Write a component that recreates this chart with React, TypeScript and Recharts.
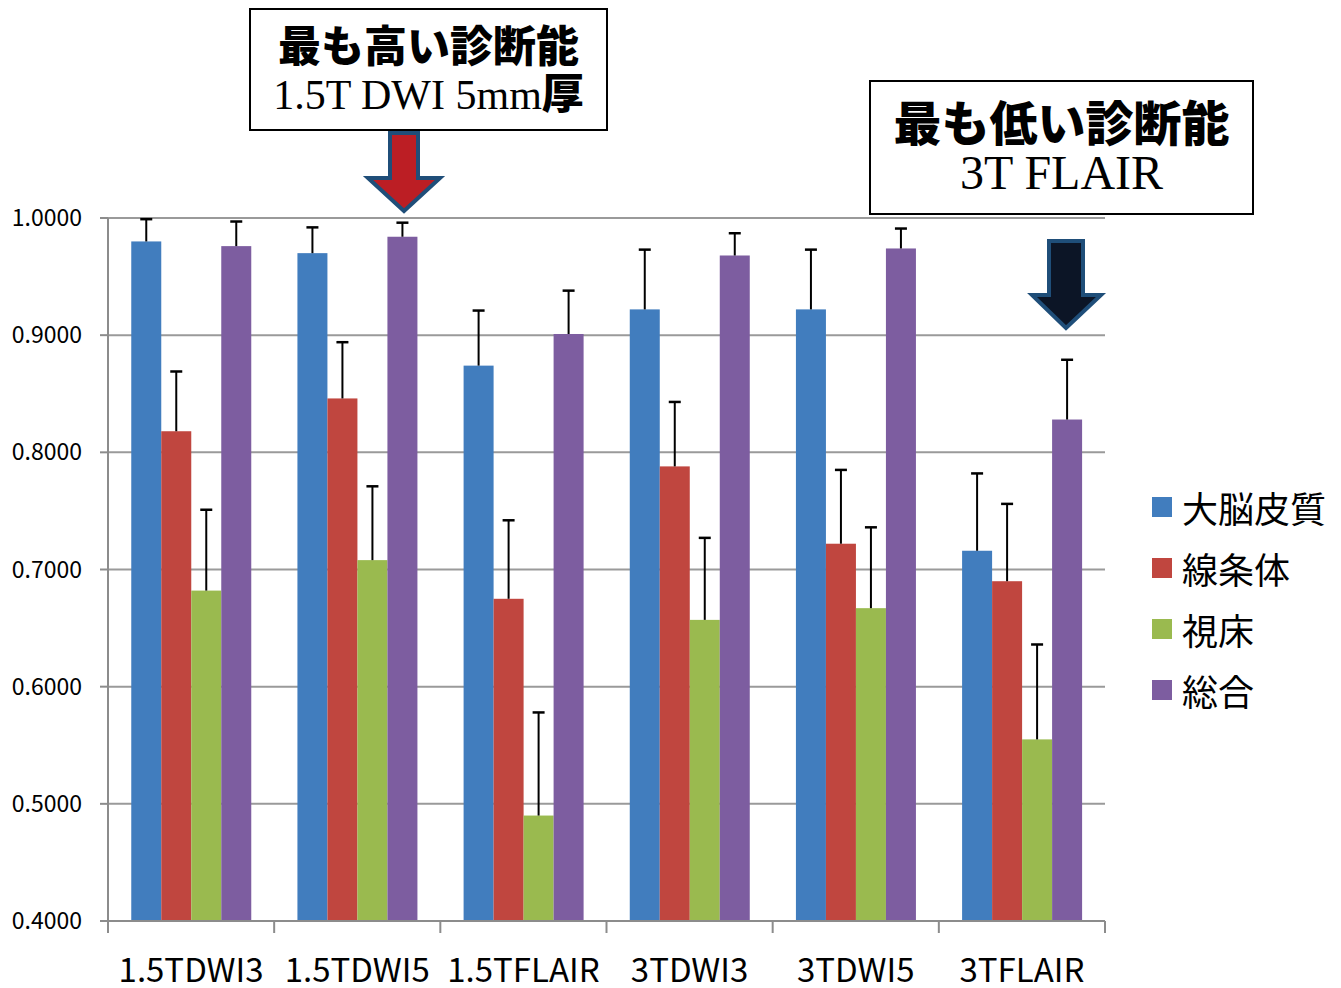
import React from 'react';
import { BarChart, Bar, XAxis, YAxis, CartesianGrid } from 'recharts';

const categories = ['1.5TDWI3', '1.5TDWI5', '1.5TFLAIR', '3TDWI3', '3TDWI5', '3TFLAIR'];
const cortex = [0.980, 0.970, 0.874, 0.922, 0.922, 0.716];
const striatum = [0.818, 0.846, 0.675, 0.788, 0.722, 0.690];
const thalamus = [0.682, 0.708, 0.490, 0.657, 0.667, 0.555];
const overall = [0.976, 0.984, 0.901, 0.968, 0.974, 0.828];
const cortexErr = [0.019, 0.022, 0.047, 0.051, 0.051, 0.066];
const striatumErr = [0.051, 0.048, 0.067, 0.055, 0.063, 0.066];
const thalamusErr = [0.069, 0.063, 0.088, 0.070, 0.069, 0.081];
const overallErr = [0.021, 0.012, 0.037, 0.019, 0.017, 0.051];
const yTicks = [0.4, 0.5, 0.6, 0.7, 0.8, 0.9, 1.0];
const boundaryTicks = [0, 1, 2, 3, 4, 5, 6];

const Y_MIN = 0.4;
const Y_MAX = 1.0;

const series = [
  { key: 'cortex', name: '大脳皮質', color: '#417DBE' },
  { key: 'striatum', name: '線条体', color: '#C0463F' },
  { key: 'thalamus', name: '視床', color: '#9ABA4F' },
  { key: 'overall', name: '総合', color: '#7D5DA0' },
];

const data = categories.map((c, i) => ({
  name: c,
  slot: i + 0.5, // category centre on the 0..6 boundary axis
  cortex: cortex[i],
  striatum: striatum[i],
  thalamus: thalamus[i],
  overall: overall[i],
  cortexErr: cortexErr[i],
  striatumErr: striatumErr[i],
  thalamusErr: thalamusErr[i],
  overallErr: overallErr[i],
}));

const SANS = '"Noto Sans CJK JP", "Noto Sans", sans-serif';
const SERIF = '"Liberation Serif", "DejaVu Serif", serif';

// bar + one-sided (upper) error whisker, scaled from the bar's own geometry
const errShape = (key: string) => (props: any) => {
  const { x, y, width, height, fill, payload } = props;
  const v = payload[key];
  const pxPerUnit = height / (v - Y_MIN);
  const top = y - payload[key + 'Err'] * pxPerUnit;
  const cx = x + width / 2;
  return (
    <g>
      <rect x={x} y={y} width={width} height={height} fill={fill} />
      <line x1={cx} x2={cx} y1={y} y2={top} stroke="#000" strokeWidth={2} />
      <line x1={cx - 6} x2={cx + 6} y1={top} y2={top} stroke="#000" strokeWidth={2.5} />
    </g>
  );
};

function XLabel({ x, y, payload }: any) {
  return (
    <text x={x} y={y + 52} textAnchor="middle" fontSize={33} fontFamily={SANS} fill="#000">
      {payload.value}
    </text>
  );
}

export default function App() {
  return (
    <div style={{ position: 'absolute', left: 0, top: 0, width: 1341, height: 988, background: '#fff' }}>
      <BarChart
        width={1341}
        height={988}
        data={data}
        barCategoryGap="14%"
        barGap={0}
        margin={{ top: 218, right: 236, bottom: 0, left: 0 }}
      >
        <CartesianGrid horizontal vertical={false} stroke="#9a9a9a" strokeWidth={2} />
        {/* boundary ticks between categories, sits right on the plot bottom */}
        <XAxis
          xAxisId={0}
          dataKey="slot"
          type="number"
          scale="linear"
          domain={[0, 6]}
          allowDataOverflow
          ticks={boundaryTicks}
          height={1}
          interval={0}
          tickSize={12}
          tickLine={{ stroke: '#8c8c8c', strokeWidth: 2 }}
          tickFormatter={() => ''}
          axisLine={{ stroke: '#8c8c8c', strokeWidth: 2 }}
        />
        <XAxis
          xAxisId="cat"
          dataKey="name"
          height={66}
          tickLine={false}
          axisLine={false}
          tick={<XLabel />}
          interval={0}
        />
        <YAxis
          domain={[Y_MIN, Y_MAX]}
          ticks={yTicks}
          width={108}
          tickSize={8}
          tickMargin={18}
          tickLine={{ stroke: '#8c8c8c', strokeWidth: 2 }}
          axisLine={{ stroke: '#8c8c8c', strokeWidth: 2 }}
          tickFormatter={(v) => Number(v).toFixed(4)}
          tick={{ fill: '#000', fontSize: 23, fontFamily: SANS }}
        />
        {series.map((s) => (
          <Bar
            key={s.key}
            xAxisId="cat"
            dataKey={s.key}
            name={s.name}
            fill={s.color}
            shape={errShape(s.key)}
            isAnimationActive={false}
          />
        ))}
      </BarChart>

      {/* legend */}
      <div style={{ position: 'absolute', left: 1152, top: 476, fontFamily: SANS }}>
        {series.map((s) => (
          <div key={s.key} style={{ display: 'flex', alignItems: 'center', height: 61 }}>
            <div style={{ width: 20, height: 20, background: s.color, marginRight: 10 }} />
            <span style={{ fontSize: 36, lineHeight: '44px', color: '#000' }}>{s.name}</span>
          </div>
        ))}
      </div>

      {/* annotation boxes */}
      <div style={{
        position: 'absolute', left: 249, top: 8, width: 355, height: 119,
        border: '2px solid #000', background: '#fff', textAlign: 'center',
      }}>
        <div style={{ fontFamily: SANS, fontWeight: 900, fontSize: 43, lineHeight: '48px', marginTop: 9 }}>最も高い診断能</div>
        <div style={{ fontFamily: SERIF, fontSize: 42, lineHeight: '48px', whiteSpace: 'nowrap' }}>
          1.5T DWI 5mm<span style={{ fontFamily: SANS, fontWeight: 900 }}>厚</span>
        </div>
      </div>
      <div style={{
        position: 'absolute', left: 869, top: 80, width: 381, height: 131,
        border: '2px solid #000', background: '#fff', textAlign: 'center',
      }}>
        <div style={{ fontFamily: SANS, fontWeight: 900, fontSize: 48, lineHeight: '54px', marginTop: 11 }}>最も低い診断能</div>
        <div style={{ fontFamily: SERIF, fontSize: 48, lineHeight: '52px' }}>3T FLAIR</div>
      </div>

      {/* arrows */}
      <svg width={1341} height={988} style={{ position: 'absolute', left: 0, top: 0, pointerEvents: 'none' }}>
        <polygon
          points="390,133 418,133 418,178 440,178 404,211 368,178 390,178"
          fill="#BC1E24"
          stroke="#1F4E79"
          strokeWidth={4}
          strokeLinejoin="miter"
        />
        <polygon
          points="1049,241 1083,241 1083,295 1101,295 1066,328 1032,295 1049,295"
          fill="#0C1526"
          stroke="#1F4E79"
          strokeWidth={4}
          strokeLinejoin="miter"
        />
      </svg>
    </div>
  );
}
